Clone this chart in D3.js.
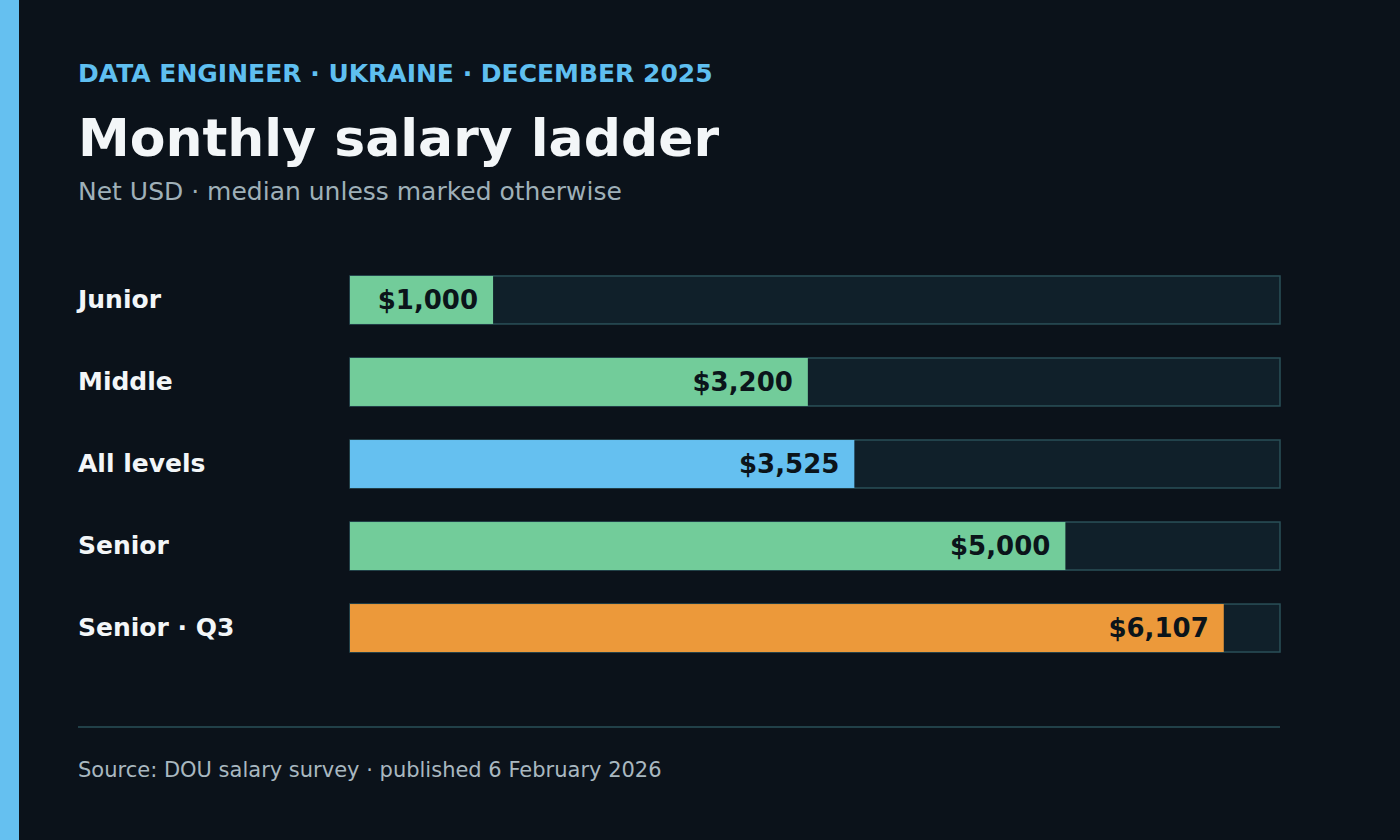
<!DOCTYPE html>
<html lang="en">
<head>
<meta charset="UTF-8">
<title>Monthly salary ladder</title>
<script src="https://d3js.org/d3.v7.min.js"></script>
<style>
  html, body { margin: 0; padding: 0; background: #0b121a; }
  svg { display: block; font-family: "DejaVu Sans", sans-serif; }
</style>
</head>
<body>
<svg id="chart" width="1400" height="840"></svg>
<script>
// data
const levels = ["Junior", "Middle", "All levels", "Senior", "Senior \u00b7 Q3"];
const salaries = [1000, 3200, 3525, 5000, 6107];
const kinds = ["median", "median", "overall", "median", "q3"];
const xMax = 6500;

const colors = { median: "#72cc9a", overall: "#65c0f0", q3: "#ec993a" };

const W = 1400, H = 840;
const left = 350, right = 1280;
const svg = d3.select("#chart");

// background + accent stripe
svg.append("rect").attr("width", W).attr("height", H).attr("fill", "#0b121a");
svg.append("rect").attr("width", 19).attr("height", H).attr("fill", "#65c0f0");

// header
svg.append("text").attr("x", 78).attr("y", 82)
  .attr("fill", "#5fbff0").attr("font-size", 25).attr("font-weight", "bold")
  .text("DATA ENGINEER \u00b7 UKRAINE \u00b7 DECEMBER 2025");
svg.append("text").attr("x", 78).attr("y", 156)
  .attr("fill", "#f3f6f8").attr("font-size", 52).attr("font-weight", "bold")
  .text("Monthly salary ladder");
svg.append("text").attr("x", 78).attr("y", 200)
  .attr("fill", "#9fb0b8").attr("font-size", 25)
  .text("Net USD \u00b7 median unless marked otherwise");

// scales
const x = d3.scaleLinear().domain([0, xMax]).range([left, right]);
const y = d3.scaleBand().domain(levels).range([259, 669]).paddingInner(0.415).paddingOuter(0.207);

const rows = svg.append("g").selectAll("g")
  .data(levels)
  .join("g")
  .attr("transform", d => `translate(0,${y(d)})`);

// track
rows.append("rect")
  .attr("x", x(0)).attr("y", 0)
  .attr("width", x(xMax) - x(0)).attr("height", y.bandwidth())
  .attr("fill", "#10202a").attr("stroke", "#2a5058").attr("stroke-width", 1.5);

// value bar
rows.append("rect")
  .attr("x", x(0)).attr("y", 0)
  .attr("width", (d, i) => x(salaries[i]) - x(0))
  .attr("height", y.bandwidth())
  .attr("fill", (d, i) => colors[kinds[i]]);

// labels
rows.append("text")
  .attr("x", 78).attr("y", y.bandwidth() / 2).attr("dy", "0.33em")
  .attr("fill", "#f3f6f8").attr("font-size", 25).attr("font-weight", "bold")
  .text(d => d);

rows.append("text")
  .attr("x", (d, i) => x(salaries[i]) - 15)
  .attr("y", y.bandwidth() / 2).attr("dy", "0.33em")
  .attr("text-anchor", "end")
  .attr("fill", "#0b141a").attr("font-size", 26).attr("font-weight", "bold")
  .text((d, i) => "$" + d3.format(",")(salaries[i]));

// footer
svg.append("line").attr("x1", 78).attr("x2", right).attr("y1", 727).attr("y2", 727)
  .attr("stroke", "#2a5058").attr("stroke-width", 1.5);
svg.append("text").attr("x", 78).attr("y", 777)
  .attr("fill", "#a9b8c0").attr("font-size", 21)
  .text("Source: DOU salary survey \u00b7 published 6 February 2026");
</script>
</body>
</html>
